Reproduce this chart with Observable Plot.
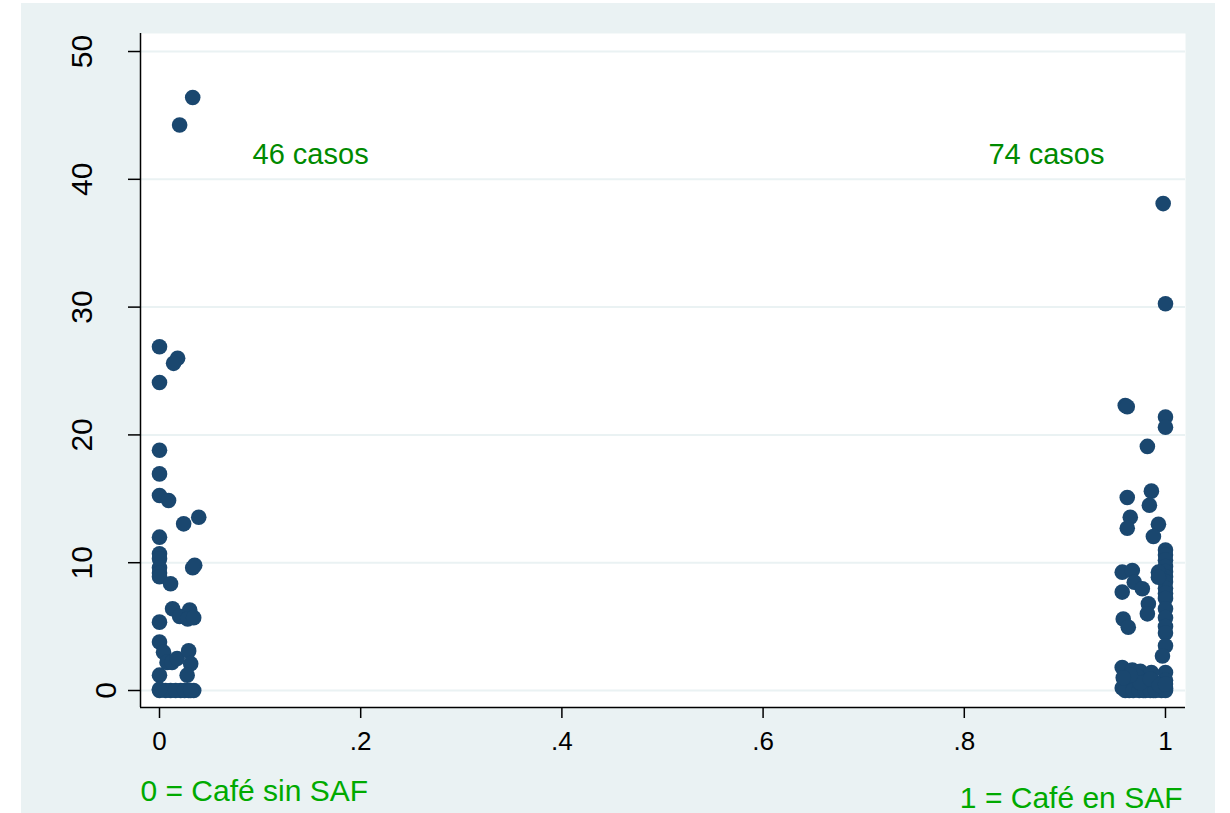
<!DOCTYPE html>
<html><head><meta charset="utf-8">
<script src="https://cdn.jsdelivr.net/npm/d3@7"></script>
<script src="https://cdn.jsdelivr.net/npm/@observablehq/plot@0.6"></script>
<style>
html,body{margin:0;padding:0;background:#fff;}
#bg{position:absolute;left:21px;top:3px;width:1194px;height:810px;background:#eaf2f3;}
#chart{position:absolute;left:0;top:0;}
</style></head><body><div id="bg"></div><div id="chart"></div>
<script>
// Group 0 = Café sin SAF (jittered x), 46 cases
const sinSAF_x = [0.033,0.020,0,0.018,0.014,0,0,0,0,0.009,0.024,0.039,0,0,0,0,0,0,0.033,0.035,0.011,0.013,0.020,0.030,0.028,0.034,0,0,0.004,0.0075,0.0125,0.0175,0.029,0.031,0.0275,0,0,0.011,0.021,0.029,0.034,0.006,0.016,0.025,0.031,0];
const sinSAF_y = [46.4,44.25,26.9,26.0,25.6,24.1,18.8,16.95,15.26,14.87,13.04,13.56,12.0,10.7,10.3,9.6,9.2,8.9,9.6,9.8,8.35,6.4,5.8,6.3,5.6,5.7,5.35,3.8,3.0,2.2,2.2,2.5,3.1,2.1,1.2,1.2,0,0,0,0,0,0,0,0,0,0.1];
// Group 1 = Café en SAF (jittered x), 74 cases
const enSAF_x = [0.9977,1.0,0.960,0.962,1.0,1.0,0.982,
  0.962,0.986,0.984,0.965,0.962,0.993,0.988,
  1,1,1,1,1,1,1,1,1,1,1,1,1,1,1,0.997,1,1,1,
  0.993,0.993,
  0.957,0.967,0.969,0.977,0.957,0.983,0.982,0.958,0.963,
  0.957,0.967,0.975,0.986,0.960,0.972,0.980,0.990,0.957,0.964,0.970,0.978,0.983,0.988,0.993,0.996,0.962,
  0.960,0.968,0.974,0.980,0.985,0.990,1.0,0.975,0.965,0.985,0.958,0.994,1.0];
const enSAF_y = [38.1,30.26,22.3,22.2,21.4,20.6,19.1,
  15.1,15.6,14.5,13.56,12.7,13.0,12.05,
  11.0,10.6,10.2,9.7,9.3,8.9,8.5,8.0,7.6,7.2,6.4,5.7,5.0,4.5,3.5,2.7,1.4,0.8,0.15,
  9.26,8.87,
  9.26,9.39,8.47,7.96,7.7,6.78,6.0,5.6,4.95,
  1.8,1.6,1.5,1.4,0.9,1.1,0.7,0.6,0.2,0.0,0.3,0.0,0.1,0.0,0.2,0.0,0.5,
  0,0,0,0,0,0,0,0.6,1.2,0.9,1.0,0.4,0.5];
const xTicks = [0,0.2,0.4,0.6,0.8,1];
const xTickLabels = ["0",".2",".4",".6",".8","1"];
const yTicks = [0,10,20,30,40,50];
const countLabels = ["46 casos","74 casos"];
const countLabelX = [0.0925,0.824];
const countLabelY = [41.2,41.2];
const captions = ["0 = Café sin SAF","1 = Café en SAF"];

const points = [
  ...sinSAF_x.map((x,i)=>({x, y: sinSAF_y[i]})),
  ...enSAF_x.map((x,i)=>({x, y: enSAF_y[i]}))
];
const labels = countLabels.map((t,i)=>({text:t, x:countLabelX[i], y:countLabelY[i]}));
const xDom = [-0.01889, 1.0199];
const yDom = [-1.33, 51.41];
const font = "'Liberation Sans', Arial, Helvetica, sans-serif";

const chart = Plot.plot({
  width: 1230, height: 813,
  marginLeft: 140, marginRight: 45, marginTop: 33, marginBottom: 106,
  style: {background: "transparent", fontFamily: font, color: "black"},
  x: {domain: xDom, label: null},
  y: {domain: yDom, label: null},
  marks: [
    Plot.frame({fill: "white", stroke: null}),
    Plot.gridY(yTicks, {stroke: "#eaf2f3", strokeOpacity: 1, strokeWidth: 2}),
    Plot.ruleY([yDom[0]], {stroke: "black", strokeWidth: 1.5}),
    Plot.ruleX([xDom[0]], {stroke: "black", strokeWidth: 1.5}),
    Plot.axisX(xTicks, {tickSize: 11, tickPadding: 13, fontSize: 26, stroke: "black", strokeWidth: 1.5,
      tickFormat: d => xTickLabels[xTicks.indexOf(d)], label: null}),
    Plot.axisY(yTicks.filter(d => d !== 0), {tickSize: 12, tickRotate: -90, tickPadding: 37, fontSize: 30,
      stroke: "black", strokeWidth: 1.5, textAnchor: "middle", lineAnchor: "bottom", label: null}),
    Plot.axisY([0], {tickSize: 12, tickRotate: -90, tickPadding: 13, fontSize: 30,
      stroke: "black", strokeWidth: 1.5, textAnchor: "middle", lineAnchor: "bottom", label: null}),
    Plot.dot(points, {x: "x", y: "y", r: 7.8, fill: "#1a476f", stroke: null}),
    Plot.text(labels, {x: "x", y: "y", text: "text", fill: "#008a00", fontSize: 29, textAnchor: "start", lineAnchor: "bottom"}),
    Plot.text([captions[0]], {frameAnchor: "bottom-left", text: d => d, dy: 93, fill: "#00aa00", fontSize: 30, textAnchor: "start", lineAnchor: "bottom"}),
    Plot.text([captions[1]], {frameAnchor: "bottom-right", text: d => d, dx: -3, dy: 100, fill: "#00aa00", fontSize: 30, textAnchor: "end", lineAnchor: "bottom"})
  ]
});
document.getElementById("chart").appendChild(chart);
</script></body></html>
